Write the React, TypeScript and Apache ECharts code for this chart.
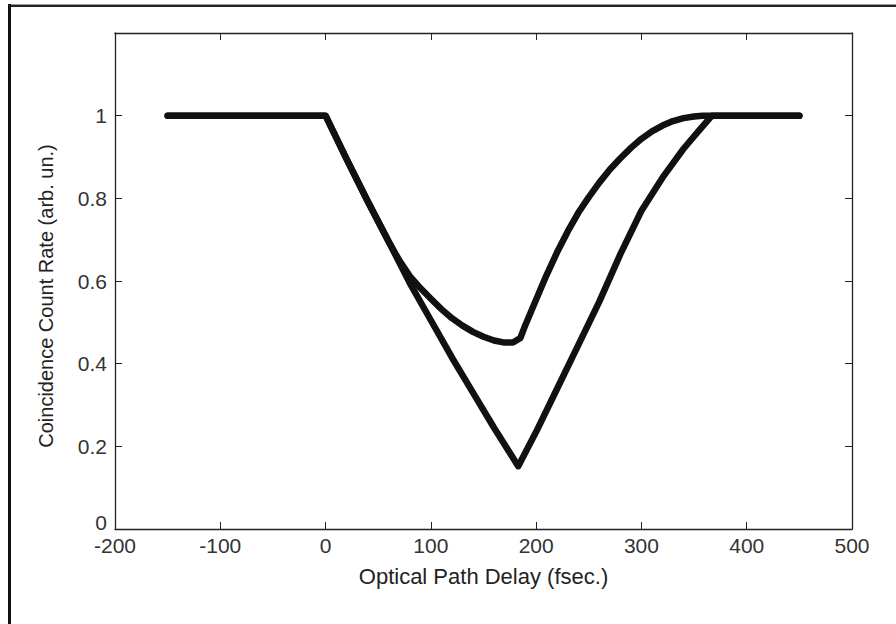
import React, { useEffect, useRef } from "react";
import * as echarts from "echarts";

// Optical path delay axis ticks (fsec.)
const X_MIN = -200;
const X_MAX = 500;
const X_STEP = 100;
// Coincidence count rate axis
const Y_MIN = 0;
const Y_MAX = 1.2;
const Y_STEP = 0.2;

// Triangular dip (distinguishable photons)
const triDelay = [-150, 0, 20, 40, 60, 80, 100, 120, 140, 160, 183, 200, 220, 240, 260, 280, 300, 320, 340, 355, 367, 450];
const triRate = [1, 1, 0.895, 0.793, 0.695, 0.595, 0.505, 0.415, 0.33, 0.245, 0.152, 0.235, 0.34, 0.445, 0.55, 0.665, 0.77, 0.85, 0.92, 0.965, 1, 1];

// Rounded dip
const curveDelay = [-150, 0, 20, 40, 60, 70, 80, 90, 100, 110, 120, 130, 140, 150, 160, 170, 178, 185, 190, 200, 210, 220, 230, 240, 250, 260, 270, 280, 290, 300, 310, 320, 330, 340, 350, 358, 450];
const curveRate = [1, 1, 0.895, 0.793, 0.695, 0.65, 0.612, 0.583, 0.557, 0.532, 0.51, 0.492, 0.477, 0.465, 0.456, 0.451, 0.451, 0.462, 0.495, 0.555, 0.615, 0.67, 0.72, 0.765, 0.803, 0.838, 0.87, 0.897, 0.922, 0.944, 0.962, 0.976, 0.987, 0.994, 0.998, 1, 1];

const FONT = "'Liberation Sans', Arial, Helvetica, sans-serif";
const INK = "#111";
const AXIS = "#222";

function pairs(xs: number[], ys: number[]) {
  return xs.map((x, i) => [x, ys[i]]);
}

function yLabel(v: number) {
  if (v > 1.05) return "";
  const r = Math.round(v * 10) / 10;
  if (r === 0) return "{zero|0}";
  return String(r);
}

export default function App() {
  const ref = useRef<HTMLDivElement>(null);

  useEffect(() => {
    if (!ref.current) return;
    const chart = echarts.init(ref.current, null, { renderer: "svg" });

    const tickStyle = { show: true, inside: true, length: 7, lineStyle: { color: AXIS, width: 1 } };
    const lineStyle = { show: true, onZero: false, lineStyle: { color: AXIS, width: 1.3 } };
    const labelFont = { color: "#333", fontFamily: FONT, fontSize: 21 };

    chart.setOption({
      animation: false,
      backgroundColor: "#fff",
      grid: { left: 115, top: 33, right: 44, bottom: 95, containLabel: false },
      xAxis: [
        {
          type: "value",
          min: X_MIN,
          max: X_MAX,
          interval: X_STEP,
          position: "bottom",
          axisLine: lineStyle,
          axisTick: tickStyle,
          splitLine: { show: false },
          axisLabel: { ...labelFont, margin: 6, showMinLabel: true, showMaxLabel: true },
          name: "Optical Path Delay (fsec.)",
          nameLocation: "middle",
          nameGap: 36,
          nameTextStyle: { color: AXIS, fontFamily: FONT, fontSize: 22 },
        },
        {
          type: "value",
          min: X_MIN,
          max: X_MAX,
          interval: X_STEP,
          position: "top",
          axisLine: lineStyle,
          axisTick: tickStyle,
          splitLine: { show: false },
          axisLabel: { show: false },
        },
      ],
      yAxis: [
        {
          type: "value",
          min: Y_MIN,
          max: Y_MAX,
          interval: Y_STEP,
          position: "left",
          axisLine: lineStyle,
          axisTick: tickStyle,
          splitLine: { show: false },
          axisLabel: {
            ...labelFont,
            margin: 8,
            formatter: yLabel,
            rich: { zero: { ...labelFont, padding: [0, 0, 14, 0] } },
          },
          name: "Coincidence Count Rate (arb. un.)",
          nameLocation: "middle",
          nameGap: 59,
          nameTextStyle: { color: AXIS, fontFamily: FONT, fontSize: 20, padding: [0, 0, 0, -30] },
        },
        {
          type: "value",
          min: Y_MIN,
          max: Y_MAX,
          interval: Y_STEP,
          position: "right",
          axisLine: lineStyle,
          axisTick: tickStyle,
          splitLine: { show: false },
          axisLabel: { show: false },
        },
      ],
      series: [
        {
          type: "line",
          xAxisIndex: 0,
          yAxisIndex: 0,
          data: pairs(triDelay, triRate),
          showSymbol: false,
          symbol: "none",
          lineStyle: { color: INK, width: 6.5, cap: "round", join: "round" },
          z: 3,
        },
        {
          type: "line",
          xAxisIndex: 0,
          yAxisIndex: 0,
          data: pairs(curveDelay, curveRate),
          showSymbol: false,
          symbol: "none",
          lineStyle: { color: INK, width: 6.5, cap: "round", join: "round" },
          z: 3,
        },
      ],
      graphic: [
        { type: "rect", shape: { x: 8, y: 4, width: 888, height: 1 }, style: { fill: "#999" }, silent: true },
        { type: "rect", shape: { x: 8, y: 5, width: 888, height: 2 }, style: { fill: "#222" }, silent: true },
        { type: "rect", shape: { x: 8, y: 4, width: 3, height: 620 }, style: { fill: "#111" }, silent: true },
      ],
    });

    return () => chart.dispose();
  }, []);

  return (
    <div
      ref={ref}
      style={{ position: "fixed", left: 0, top: 0, width: 896, height: 624, background: "#fff" }}
    />
  );
}
